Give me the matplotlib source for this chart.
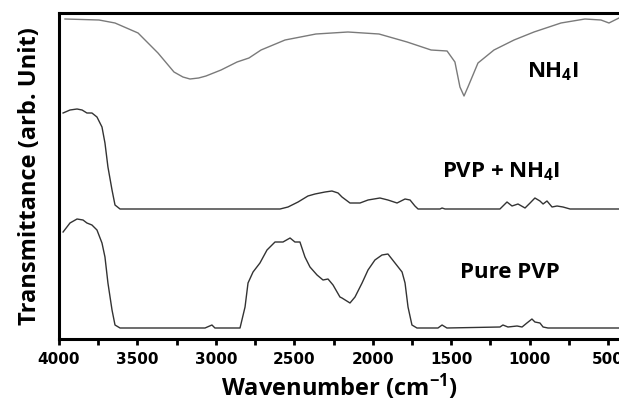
import numpy as np
import matplotlib
matplotlib.use("Agg")
import matplotlib.pyplot as plt
from matplotlib.ticker import MultipleLocator

plt.rcParams['mathtext.default'] = 'regular'

# --- data (wavenumber in cm-1, transmittance in arb. units) ---
nh4i_wn = [3962, 3745, 3643, 3496, 3369, 3267, 3210, 3165, 3110, 3063, 2967, 2865, 2789, 2712,
           2559, 2362, 2158, 1960, 1781, 1628, 1526, 1476, 1444, 1418, 1393, 1329,
           1227, 1099, 972, 800, 647, 545, 494, 456, 430]
nh4i_t = [320, 319, 316, 306, 286, 267, 262, 260, 261, 263, 269, 277, 281, 289,
          299, 305, 307, 305, 297, 289, 288, 277, 252, 243, 252, 276,
          289, 299, 307, 316, 320, 319, 316, 319, 321]

mix_wn = [3974, 3930, 3885, 3853, 3822, 3790, 3758, 3726, 3707, 3688, 3662, 3643, 3611,
          2591, 2540, 2476, 2413, 2368, 2304, 2260, 2221, 2196, 2145, 2081, 2030, 1954,
          1903, 1845, 1794, 1762, 1731, 1711, 1571, 1558, 1539, 1189, 1144, 1112, 1074,
          1029, 997, 966, 934, 914, 889, 857, 825, 787, 742, 430]
mix_t = [226, 229, 230, 229, 226, 226, 222, 212, 196, 172, 149, 134, 130,
         130, 132, 137, 143, 145, 147, 148, 146, 142, 136, 136, 139, 141,
         139, 136, 140, 139, 133, 130, 130, 131, 130, 130, 137, 133, 135,
         131, 136, 141, 138, 135, 138, 132, 133, 132, 130, 130]

pvp_wn = [3974, 3930, 3885, 3847, 3822, 3790, 3758, 3726, 3707, 3688, 3662, 3643, 3611,
          3069, 3025, 3006, 2846, 2814, 2795, 2763, 2719, 2674, 2623, 2572, 2527, 2496,
          2464, 2432, 2400, 2355, 2317, 2285, 2253, 2209, 2196, 2145, 2113, 2068, 2030,
          1986, 1941, 1903, 1858, 1813, 1794, 1775, 1750, 1718, 1584, 1558, 1527, 1189,
          1170, 1138, 1080, 1048, 1017, 985, 966, 934, 914, 883, 430]
pvp_t = [107, 116, 120, 119, 116, 114, 109, 96, 82, 56, 29, 14, 11,
         11, 14, 11, 11, 32, 56, 67, 76, 89, 97, 97, 101, 97,
         97, 82, 72, 64, 59, 60, 54, 42, 41, 36, 42, 56, 69,
         79, 84, 85, 76, 67, 56, 32, 14, 11, 11, 14, 11, 12,
         14, 12, 13, 12, 16, 20, 17, 16, 12, 11, 11]

labels = ['NH$_4$I', 'PVP + NH$_4$I', 'Pure PVP']
label_pos = [(850, 267), (1182, 167), (1125, 67)]

fig = plt.figure(figsize=(6.19, 4.01), dpi=100)
ax = fig.add_axes([59 / 619, 1 - 339 / 401, 560 / 619, 326.3 / 401])

ax.plot(nh4i_wn, nh4i_t, color='#7a7a7a', lw=1.0)
ax.plot(mix_wn, mix_t, color='#333333', lw=1.0)
ax.plot(pvp_wn, pvp_t, color='#333333', lw=1.0)

for txt, (x, y) in zip(labels, label_pos):
    ax.text(x, y, txt, ha='center', va='center', fontsize=16,
            fontweight='bold', family='Open Sans')

ax.set_xlim(4000, 430)
ax.set_ylim(0, 326.3)

ax.spines['right'].set_visible(False)
for s in ['left', 'bottom', 'top']:
    ax.spines[s].set_linewidth(2.2)

ax.xaxis.set_major_locator(MultipleLocator(500))
ax.xaxis.set_minor_locator(MultipleLocator(250))
ax.tick_params(axis='x', which='both', direction='out', length=4.5, width=2)
ax.tick_params(axis='x', which='major', pad=5, labelsize=11)
for lab in ax.get_xticklabels():
    lab.set_fontweight('bold')
ax.set_yticks([])

ax.set_xlabel('Wavenumber (cm$^{-1}$)', fontsize=17, fontweight='bold',
              family='Open Sans', labelpad=3)
ax.set_ylabel('Transmittance (arb. Unit)', fontsize=17, fontweight='bold',
              family='Open Sans', labelpad=12)

fig.savefig('out.png', dpi=100)
